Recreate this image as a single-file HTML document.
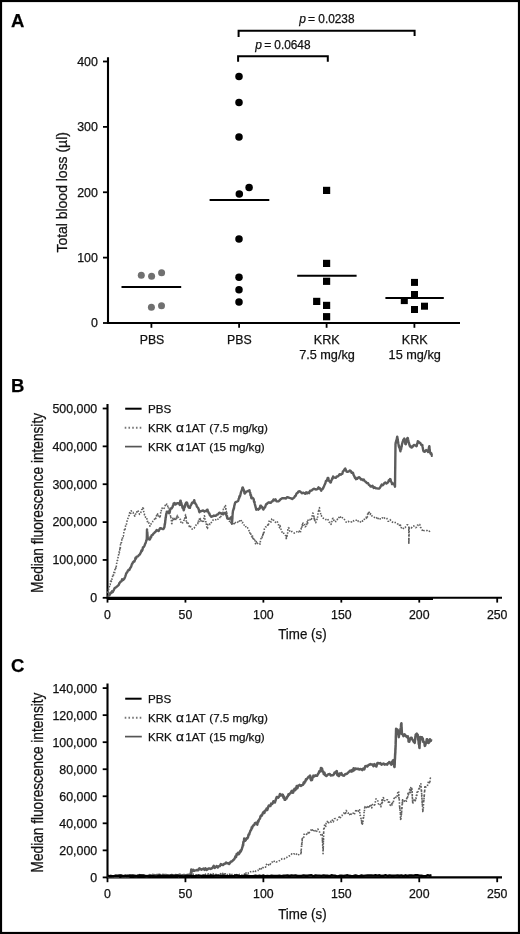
<!DOCTYPE html>
<html><head><meta charset="utf-8"><style>
html,body{margin:0;padding:0;background:#fff;}
svg{display:block;will-change:transform;}
text{font-family:"Liberation Sans",sans-serif;stroke:#111;stroke-width:0.25px;}
</style></head><body>
<svg width="520" height="934" viewBox="0 0 520 934">
<rect x="0" y="0" width="520" height="934" fill="#fff"/>
<rect x="1" y="1" width="518" height="932" fill="none" stroke="#000" stroke-width="2.2"/>

<text x="11" y="27" font-size="18.5" font-weight="bold" fill="#000">A</text>
<path d="M108 57.3 V324 M107 323 H460" stroke="#000" stroke-width="2.1" fill="none"/>
<path d="M103 323.00 H108" stroke="#000" stroke-width="1.8"/>
<text x="97.9" y="327.45" font-size="12.4" text-anchor="end" fill="#111">0</text>
<path d="M103 257.62 H108" stroke="#000" stroke-width="1.8"/>
<text x="97.9" y="262.07" font-size="12.4" text-anchor="end" fill="#111">100</text>
<path d="M103 192.25 H108" stroke="#000" stroke-width="1.8"/>
<text x="97.9" y="196.70" font-size="12.4" text-anchor="end" fill="#111">200</text>
<path d="M103 126.87 H108" stroke="#000" stroke-width="1.8"/>
<text x="97.9" y="131.32" font-size="12.4" text-anchor="end" fill="#111">300</text>
<path d="M103 61.50 H108" stroke="#000" stroke-width="1.8"/>
<text x="97.9" y="65.95" font-size="12.4" text-anchor="end" fill="#111">400</text>
<path d="M151.4 323 V327.8" stroke="#000" stroke-width="1.8"/>
<path d="M239.1 323 V327.8" stroke="#000" stroke-width="1.8"/>
<path d="M326.6 323 V327.8" stroke="#000" stroke-width="1.8"/>
<path d="M414.4 323 V327.8" stroke="#000" stroke-width="1.8"/>
<text x="152" y="343.6" font-size="12.3" text-anchor="middle" fill="#111">PBS</text>
<text x="239.4" y="343.6" font-size="12.3" text-anchor="middle" fill="#111">PBS</text>
<text x="326.8" y="343.6" font-size="12.6" text-anchor="middle" fill="#111">KRK</text>
<text x="327" y="359" font-size="12.7" text-anchor="middle" fill="#111">7.5 mg/kg</text>
<text x="414.7" y="343.6" font-size="12.6" text-anchor="middle" fill="#111">KRK</text>
<text x="414.7" y="359" font-size="12.7" text-anchor="middle" fill="#111">15 mg/kg</text>
<text transform="translate(66.9 252.6) rotate(-90)" x="0" y="0" font-size="15.5" textLength="120.5" lengthAdjust="spacingAndGlyphs" fill="#111">Total blood loss (µl)</text>
<circle cx="141.3" cy="275.2" r="3.5" fill="#707070"/>
<circle cx="151.6" cy="276.3" r="3.5" fill="#707070"/>
<circle cx="161.6" cy="272.7" r="3.5" fill="#707070"/>
<circle cx="151.4" cy="307.2" r="3.5" fill="#707070"/>
<circle cx="161.5" cy="305.7" r="3.5" fill="#707070"/>
<path d="M121.5 287 H181.2" stroke="#000" stroke-width="2"/>
<circle cx="239" cy="76.6" r="3.75" fill="#000"/>
<circle cx="239" cy="102.4" r="3.75" fill="#000"/>
<circle cx="239" cy="136.9" r="3.75" fill="#000"/>
<circle cx="239.3" cy="193.9" r="3.75" fill="#000"/>
<circle cx="249.1" cy="187.4" r="3.75" fill="#000"/>
<circle cx="239" cy="239.1" r="3.75" fill="#000"/>
<circle cx="239" cy="277.3" r="3.75" fill="#000"/>
<circle cx="239" cy="289.8" r="3.75" fill="#000"/>
<circle cx="239" cy="301.9" r="3.75" fill="#000"/>
<path d="M209.6 199.9 H269.3" stroke="#000" stroke-width="2"/>
<rect x="323.00" y="186.80" width="7.2" height="7.2" fill="#000"/>
<rect x="323.00" y="259.80" width="7.2" height="7.2" fill="#000"/>
<rect x="323.00" y="277.70" width="7.2" height="7.2" fill="#000"/>
<rect x="313.10" y="297.80" width="7.2" height="7.2" fill="#000"/>
<rect x="323.00" y="301.80" width="7.2" height="7.2" fill="#000"/>
<rect x="323.00" y="313.10" width="7.2" height="7.2" fill="#000"/>
<path d="M297.2 275.7 H356.6" stroke="#000" stroke-width="2"/>
<rect x="411.00" y="278.90" width="7.0" height="7.0" fill="#000"/>
<rect x="411.00" y="291.00" width="7.0" height="7.0" fill="#000"/>
<rect x="400.80" y="297.10" width="7.0" height="7.0" fill="#000"/>
<rect x="411.00" y="306.00" width="7.0" height="7.0" fill="#000"/>
<rect x="421.00" y="302.70" width="7.0" height="7.0" fill="#000"/>
<path d="M385.4 298.1 H443.8" stroke="#000" stroke-width="2"/>
<path d="M238.6 37 V30.8 H414.6 V36" stroke="#000" stroke-width="2" fill="none"/>
<path d="M238.1 61.8 V56.2 H327.8 V61.8" stroke="#000" stroke-width="2" fill="none"/>
<text x="299.3" y="22.8" font-size="12" font-style="italic" fill="#111">p</text><text x="307.9" y="22.8" font-size="12" fill="#111">=</text><text x="318.3" y="22.8" font-size="11.85" fill="#111">0.0238</text>
<text x="255.2" y="48.5" font-size="12" font-style="italic" fill="#111">p</text><text x="264.2" y="48.5" font-size="12" fill="#111">=</text><text x="274.3" y="48.5" font-size="11.85" fill="#111">0.0648</text>
<text x="11" y="392.2" font-size="18.5" font-weight="bold" fill="#000">B</text>
<path d="M107.5 404 V598.8 M106.5 597.8 H502" stroke="#000" stroke-width="2.1" fill="none"/>
<path d="M102.7 597.80 H107.5" stroke="#000" stroke-width="1.8"/>
<text x="97.2" y="602.20" font-size="12.4" text-anchor="end" fill="#111">0</text>
<path d="M102.7 559.94 H107.5" stroke="#000" stroke-width="1.8"/>
<text x="97.2" y="564.34" font-size="12.4" text-anchor="end" fill="#111">100,000</text>
<path d="M102.7 522.08 H107.5" stroke="#000" stroke-width="1.8"/>
<text x="97.2" y="526.48" font-size="12.4" text-anchor="end" fill="#111">200,000</text>
<path d="M102.7 484.22 H107.5" stroke="#000" stroke-width="1.8"/>
<text x="97.2" y="488.62" font-size="12.4" text-anchor="end" fill="#111">300,000</text>
<path d="M102.7 446.36 H107.5" stroke="#000" stroke-width="1.8"/>
<text x="97.2" y="450.76" font-size="12.4" text-anchor="end" fill="#111">400,000</text>
<path d="M102.7 408.50 H107.5" stroke="#000" stroke-width="1.8"/>
<text x="97.2" y="412.90" font-size="12.4" text-anchor="end" fill="#111">500,000</text>
<path d="M107.50 597.8 V602.5999999999999" stroke="#000" stroke-width="1.8"/>
<text x="107.50" y="618.5" font-size="12.3" text-anchor="middle" fill="#111">0</text>
<path d="M185.44 597.8 V602.5999999999999" stroke="#000" stroke-width="1.8"/>
<text x="185.44" y="618.5" font-size="12.3" text-anchor="middle" fill="#111">50</text>
<path d="M263.38 597.8 V602.5999999999999" stroke="#000" stroke-width="1.8"/>
<text x="263.38" y="618.5" font-size="12.3" text-anchor="middle" fill="#111">100</text>
<path d="M341.32 597.8 V602.5999999999999" stroke="#000" stroke-width="1.8"/>
<text x="341.32" y="618.5" font-size="12.3" text-anchor="middle" fill="#111">150</text>
<path d="M419.26 597.8 V602.5999999999999" stroke="#000" stroke-width="1.8"/>
<text x="419.26" y="618.5" font-size="12.3" text-anchor="middle" fill="#111">200</text>
<path d="M497.20 597.8 V602.5999999999999" stroke="#000" stroke-width="1.8"/>
<text x="497.20" y="618.5" font-size="12.3" text-anchor="middle" fill="#111">250</text>
<text x="278.2" y="639.3" font-size="14.5" textLength="48.4" lengthAdjust="spacingAndGlyphs" fill="#111">Time (s)</text>
<text transform="translate(42.6 592.8) rotate(-90)" font-size="16" textLength="179.8" lengthAdjust="spacingAndGlyphs" fill="#111">Median fluorescence intensity</text>
<path d="M125.2 408.7 H141.6" stroke="#000" stroke-width="2"/>
<path d="M124.7 427.80 H142" stroke="#777" stroke-width="1.9" stroke-dasharray="1.6 2.15"/>
<path d="M125 446.60 H141.8" stroke="#555" stroke-width="1.7"/>
<text x="148" y="413.40" font-size="11.6" fill="#111">PBS</text>
<text x="148" y="432.40" font-size="11.6" fill="#111">KRK</text>
<text x="175.9" y="432.40" font-size="12" textLength="7.9" lengthAdjust="spacingAndGlyphs" fill="#111">α</text>
<text x="185.2" y="432.40" font-size="11.6" fill="#111">1AT</text>
<text x="209.3" y="432.40" font-size="11.6" fill="#111">(7.5 mg/kg)</text>
<text x="148" y="451.10" font-size="11.6" fill="#111">KRK</text>
<text x="175.9" y="451.10" font-size="12" textLength="7.9" lengthAdjust="spacingAndGlyphs" fill="#111">α</text>
<text x="185.2" y="451.10" font-size="11.6" fill="#111">1AT</text>
<text x="209.3" y="451.10" font-size="11.6" fill="#111">(15 mg/kg)</text>
<polyline points="107.7,593.1 107.96,590.72 108.22,592.23 108.49,590.86 108.75,587.97 109.01,587.77 109.28,586.54 109.54,586.21 109.8,584.6 110.19,584.57 110.57,581 110.96,579.69 111.34,581.52 111.73,579 112.11,579.12 112.5,577.1 112.86,574.35 113.21,574.99 113.57,575.03 113.92,572.3 114.28,573.93 114.63,572.81 114.99,568.72 115.34,567.75 115.7,568.5 115.92,567.67 116.15,568.11 116.38,565.12 116.6,563.55 116.83,563.3 117.05,560.9 117.28,560.61 117.5,560.41 117.73,559.63 117.95,557.71 118.18,556.71 118.4,556.7 118.59,554.69 118.79,554.57 118.98,552.96 119.17,551.01 119.36,552.95 119.56,550.95 119.75,550.26 119.94,547.63 120.14,549.54 120.33,548.07 120.52,544.41 120.71,544.18 120.91,544.59 121.1,542.8 121.37,542.58 121.63,542.4 121.9,539.57 122.17,540.05 122.43,538.5 122.7,536.19 122.97,536.23 123.23,536.31 123.5,535.2 123.77,532.99 124.03,532.3 124.3,531 124.58,528.34 124.87,528.1 125.15,529.12 125.44,526.75 125.72,524.9 126.01,525.27 126.29,524.84 126.58,523.75 126.86,521.69 127.15,520.93 127.43,520.2 127.72,520.19 128,518.2 128.4,517.34 128.8,515.94 129.2,515.35 129.6,512.76 130,511.87 130.4,513.31 130.8,513.38 131.2,510.7 131.84,512 132.48,512.24 133.12,512.39 133.76,514.55 134.4,515.5 134.94,516.28 135.48,514.55 136.02,512.76 136.56,512.96 137.1,510.7 137.9,510.41 138.7,512.1 139.5,514.35 140.3,513.4 140.75,512.7 141.2,511.29 141.65,509.62 142.1,509.64 142.55,510.13 143,507.5 143.26,506.8 143.53,510.67 143.79,511.88 144.05,513.19 144.31,513.74 144.57,515.06 144.84,515.09 145.1,516.1 145.64,517.38 146.18,517.95 146.72,517.68 147.26,521.67 147.8,521.4 148.24,522.61 148.68,522.24 149.12,524.3 149.56,525.19 150,526.2 150.58,524.7 151.16,523.69 151.74,523.4 152.32,522.72 152.9,521.3 153.62,521 154.35,519.75 155.08,517.5 155.8,518.5 156.18,516.57 156.56,515.42 156.94,515.92 157.32,515.96 157.7,513.7 158.17,515.72 158.65,516.67 159.12,517.69 159.6,517.5 159.9,515.46 160.2,516.41 160.5,514.64 160.8,511.36 161.1,511.7 161.57,508.99 162.03,508.02 162.5,508.8 163.45,509.27 164.4,507.9 165,506.02 165.6,504.54 166.2,505.42 166.8,504 167.3,504.64 167.8,506.4 168.09,505.86 168.38,507.19 168.67,509.53 168.96,509.25 169.25,510.63 169.54,513.22 169.83,513.31 170.12,513.84 170.41,515.4 170.7,516.5 170.85,515.92 171,518.36 171.15,519.62 171.3,519.91 171.45,520.76 171.6,523.3 171.9,523.58 172.2,521.02 172.5,518.77 172.8,519.04 173.1,517.5 173.9,519.61 174.7,517.71 175.5,520.4 175.98,517.7 176.46,517.21 176.94,518.31 177.42,515.34 177.9,515.6 178.38,517.29 178.85,518.14 179.33,518.61 179.8,519.4 180.43,519.36 181.07,523.05 181.7,522.3 182.7,522.87 183.7,521.3 184.02,520.24 184.33,518.07 184.65,518.48 184.97,516.45 185.28,515.99 185.6,514.6 185.75,515.07 185.9,517.3 186.05,516.36 186.2,518.34 186.35,521.87 186.5,521.3 187.17,523.62 187.83,522.54 188.5,524.2 189.3,526.46 190.1,525.45 190.9,527.1 192.1,529.18 193.3,528.1 194.15,528.18 195,526.5 195.9,525.3 196.8,523.81 197.7,523.8 198.24,520.97 198.78,523.04 199.32,518.96 199.86,520.71 200.4,518.5 201.07,521.16 201.75,520.75 202.43,520.32 203.1,522.5 203.32,522.71 203.53,521.97 203.75,519.88 203.97,518.07 204.18,516.48 204.4,515.8 204.62,516.26 204.85,516.76 205.07,519.45 205.3,519.59 205.53,519.74 205.75,520.43 205.97,523.46 206.2,523.13 206.43,524.87 206.65,525.25 206.88,528.23 207.1,527.9 207.5,528.4 207.9,524.29 208.3,524 208.7,523.52 209.1,523.2 210,524.49 210.9,523.28 211.8,521.8 212.7,520.55 213.6,519.43 214.5,519.8 215.85,519.78 217.2,518.5 218.1,519.25 219,519.12 219.9,517.1 220.4,515.54 220.9,516.48 221.4,514.77 221.9,513.1 222.4,512.02 222.9,512.8 223.4,509.07 223.9,509 224.37,508.71 224.83,505.3 225.3,505.7 225.5,505.52 225.7,509.2 225.9,507.7 226.1,510.67 226.3,511.11 226.5,512.99 226.7,512.3 226.9,513.21 227.1,514.04 227.3,515.8 227.84,518.18 228.38,518.29 228.92,520.62 229.46,521.43 230,521.1 230.5,520.81 231,523.33 231.5,522.75 232,525.2 232.85,522.87 233.7,522.31 234.55,524.49 235.4,522.5 236.75,523.19 238.1,521.8 239,522.32 239.9,519.89 240.8,519.8 241.48,521.21 242.15,522.81 242.82,522.36 243.5,523.8 244.15,525.08 244.8,524.86 245.45,525.37 246.1,527.9 247.45,527.71 248.8,529.2 249.19,531.58 249.57,531.37 249.96,533.64 250.34,532.93 250.73,533.26 251.11,536.06 251.5,536 252.04,538.12 252.58,536.12 253.12,539.43 253.66,538.29 254.2,540.7 254.88,540.14 255.55,543.74 256.22,541.52 256.9,544 258.25,542.76 259.6,543.4 260,544.2 260.4,541.2 260.8,539.14 261.2,538.36 261.6,538.6 261.97,536.74 262.33,537.61 262.7,535.8 262.99,533.31 263.27,535.16 263.56,532.19 263.84,533.26 264.13,531.99 264.41,528.72 264.7,528.4 265.6,526.81 266.5,526.92 267.4,526.3 267.94,523.8 268.48,524.73 269.02,521.46 269.56,520.3 270.1,521 271,522.04 271.9,518.86 272.8,518.9 273.48,520.1 274.15,520.42 274.82,520.78 275.5,522.3 276.85,521.08 278.2,523 278.65,525.49 279.1,526.69 279.55,527.69 280,525.6 280.45,526.97 280.9,529 281.57,530.45 282.25,532.78 282.93,532.23 283.6,533.1 284.47,534.68 285.33,535.48 286.2,535.8 286.2,535.93 286.2,537.95 286.2,538.11 286.2,539.8 286.38,537.88 286.55,536.28 286.73,535.99 286.9,537.51 287.07,534.57 287.25,534.3 287.43,533.26 287.6,533.32 287.77,530.33 287.95,529.02 288.12,528.09 288.3,527.7 288.98,528.04 289.65,530.95 290.32,532.12 291,531.7 292.1,531.46 293.2,532.04 294.3,533.1 295.43,532.56 296.57,531.98 297.7,531 298.6,531.81 299.5,531.02 300.4,532.4 300.7,529.63 301,529.39 301.3,527.73 301.6,528.41 301.9,525.63 302.2,524.6 302.5,525.58 302.8,523.29 303.1,523 303.78,524.88 304.45,524.63 305.12,526.78 305.8,526.3 306.19,524.1 306.57,524.39 306.96,524.49 307.34,520.95 307.73,523.13 308.11,519.38 308.5,519.6 309.8,519.94 311.1,518.3 311.52,519.09 311.94,517.54 312.36,514.77 312.78,513.04 313.2,513.5 313.42,514.53 313.64,516.97 313.87,515.69 314.09,518.83 314.31,517.1 314.53,520.84 314.76,518.66 314.98,520.66 315.2,522.3 315.7,522.75 316.2,521.39 316.7,520.77 317.2,518.3 317.4,518.52 317.6,517.17 317.8,515.95 318,513.1 318.2,513.01 318.4,511.01 318.6,512 318.8,510.82 319,508.32 319.2,508.2 319.49,507.69 319.77,511.98 320.06,512.48 320.34,512.61 320.63,513.63 320.91,515.81 321.2,515.6 321.9,516.33 322.6,517.02 323.3,518.3 324.6,518.37 325.9,519.6 326.8,519.2 327.7,518.82 328.6,521 329.23,522.35 329.85,522.35 330.48,523.73 331.1,524.3 331.43,521.72 331.77,521.78 332.1,520 332.43,518.95 332.77,518.43 333.1,518.3 333.78,520.31 334.45,519.58 335.12,520.42 335.8,521.6 336.7,521.1 337.6,518.84 338.5,518.9 339.4,516.23 340.3,517.2 341.2,516.2 342.02,517.05 342.85,518.44 343.68,518.53 344.5,519.6 345.4,521.17 346.3,522.23 347.2,522.3 348.33,521.36 349.47,522.28 350.6,522.3 351.7,521.79 352.8,520.44 353.9,521 355.03,520.22 356.17,520.28 357.3,519.6 358.43,521.73 359.57,522.44 360.7,521.6 361.8,520.36 362.9,521.26 364,520.3 364.9,518.01 365.8,517.42 366.7,518.3 366.99,517.37 367.27,517.72 367.56,514.16 367.84,515.37 368.13,514.82 368.41,511.79 368.7,511.5 369.38,513.04 370.05,514.46 370.72,513.59 371.4,514.9 372.25,516.3 373.1,517.1 373.95,517.27 374.8,517.6 376.15,518.53 377.5,516.9 378.4,518.96 379.3,519.82 380.2,518.8 381.3,519.12 382.4,517.77 383.5,519 384.63,517.94 385.77,517.65 386.9,518.5 387.5,519.68 388.1,521.29 388.7,521.3 390.1,519.69 391.5,521.3 392.67,522.35 393.83,522.88 395,522.5 396.17,522.52 397.33,523.69 398.5,524.2 399.2,523.87 399.9,526.78 400.6,525.17 401.3,527.7 402.75,529.13 404.2,527.1 405.17,527.44 406.13,526.03 407.1,524.8 407.95,525.06 408.8,527 408.8,529.54 408.8,530.75 408.8,528.85 408.8,532.19 408.8,533.48 408.8,533.87 408.8,535.07 408.8,535.2 408.8,537.98 408.8,539.2 408.8,538.13 408.8,540.69 408.8,540.41 408.8,540.49 408.8,542.12 408.8,543.8 408.84,541.45 408.88,543.26 408.91,542.44 408.95,538.4 408.99,539.13 409.02,537.43 409.06,535.38 409.1,535.01 409.14,533.84 409.18,534.64 409.21,530.95 409.25,530.61 409.29,530.5 409.32,527.99 409.36,529.17 409.4,527.7 410.37,527.68 411.33,528.11 412.3,526.5 413.47,525.84 414.63,526.53 415.8,527.7 416.65,526.98 417.5,525.13 418.35,525.38 419.2,524.2 419.77,524.47 420.33,527.19 420.9,527.7 421.62,529.47 422.35,530.26 423.07,531.58 423.8,530.6 424.97,530.76 426.13,530.57 427.3,530.6 428.43,531.68 429.57,531.17 430.7,530" fill="none" stroke="#606060" stroke-width="1.6" stroke-dasharray="1.5 1.5" stroke-linejoin="round"/>
<polyline points="107.7,595.3 108.62,595.75 109.55,595.19 110.48,592.67 111.4,593.1 112.03,591.3 112.67,592.07 113.3,590.97 113.93,589.94 114.57,588.26 115.2,587.8 116.12,587.23 117.05,586.43 117.98,585.58 118.9,584.6 119.43,582.95 119.97,582.65 120.5,581.67 121.03,581.49 121.57,581.19 122.1,579.2 123.2,579.94 124.3,578.7 124.76,577.8 125.22,576.58 125.69,575.19 126.15,573.68 126.61,572.66 127.08,572.62 127.54,571.3 128,570.7 128.68,569.64 129.35,569.96 130.02,568.36 130.7,567.5 131.15,566.73 131.6,565.12 132.05,563.75 132.5,563.52 132.95,562.2 133.4,562.1 133.93,561.22 134.47,561.4 135,559.78 135.53,557.8 136.07,558.47 136.6,556.7 137.5,556.65 138.4,555.82 139.3,554.6 139.83,554.56 140.35,553.3 140.88,552.42 141.4,550.53 141.93,550.97 142.45,549.99 142.97,547.29 143.5,547.1 144.05,546.58 144.6,545.42 145.15,543.79 145.7,542.8 145.97,541.79 146.25,540.63 146.53,540.51 146.8,538.5 146.82,537.49 146.84,537.21 146.87,535.15 146.89,535.3 146.91,534.32 146.93,532.35 146.96,531.57 146.98,531.34 147,529.4 147.09,530.9 147.18,531.39 147.27,531.82 147.36,533.06 147.44,534.89 147.53,534.73 147.62,537.38 147.71,536.98 147.8,538.5 149.4,539.6 149.95,539.43 150.5,537.03 151.05,537.38 151.6,535.3 152.5,534.95 153.4,533.71 154.3,532.9 155.1,531.97 155.9,531.3 156.7,530 157.7,530.69 158.7,531 159.33,529.62 159.97,528.42 160.6,528.1 161.55,528.58 162.5,529 163.45,529.01 164.4,527.1 164.55,526.31 164.7,524.05 164.85,524.62 165,523.36 165.15,522.7 165.3,520.06 165.45,520.22 165.6,517.65 165.75,517.9 165.9,516.5 166.12,514.8 166.35,513.5 166.58,513.73 166.8,511.7 168,511.58 169.2,513.2 169.5,512.29 169.8,512.06 170.1,509.76 170.4,508.72 170.7,508.4 171.65,508.49 172.6,506.9 172.93,505.63 173.27,505.18 173.6,503.6 174.55,503.02 175.5,504.5 176.7,503.5 177.9,503.1 178.85,503.33 179.8,505 179.93,504.31 180.05,501.93 180.18,502.78 180.3,500.7 180.65,500.73 181,503.35 181.35,502.87 181.7,505 182.1,505.52 182.5,507.81 182.9,507.43 183.3,508.54 183.7,510.3 183.98,509.66 184.26,507.93 184.54,506.11 184.82,507.14 185.1,505 185.73,503.43 186.37,502.38 187,502.6 187.33,503.52 187.67,505.39 188,506.4 188.95,507.68 189.9,507.9 190.37,505.92 190.83,505.28 191.3,504.5 192.05,502.77 192.8,503.1 193.27,502.02 193.73,501.75 194.2,500.2 194.7,501.8 195.2,503.23 195.7,503.99 196.2,504.5 196.83,506.43 197.47,507.22 198.1,507.9 198.45,508.92 198.8,509.45 199.15,511.48 199.5,512.2 200.6,511.2 201.7,511 203.05,510.47 204.4,511.7 205.3,510.92 206.2,511.19 207.1,509.7 207.55,509.78 208,511.69 208.45,512.16 208.9,513.33 209.35,513.42 209.8,515.1 211.15,516.76 212.5,516.4 213.85,515.57 215.2,515.8 216.1,515.57 217,514.69 217.9,514.4 219.25,512.69 220.6,513.1 221.95,513.88 223.3,514.4 224.3,512.96 225.3,513.1 225.7,513.2 226.1,514.23 226.5,515.59 226.9,516.53 227.3,518.5 228.65,518.8 230,518.5 231.3,517.1 231.42,518.13 231.53,520.2 231.65,521.11 231.77,522.25 231.88,521.59 232,523.2 232.07,522.07 232.14,520.63 232.21,520.37 232.28,519.43 232.35,518.81 232.42,517.6 232.49,515.59 232.56,514.95 232.63,514.17 232.7,513.1 232.95,511.03 233.19,510.11 233.44,509.95 233.68,508.32 233.93,508.68 234.17,506.64 234.42,505.35 234.66,504.55 234.91,503.67 235.15,502.66 235.4,502.3 236.75,501.7 238.1,501 238.44,499.91 238.78,498.56 239.11,498.27 239.45,496.32 239.79,496.83 240.12,495.94 240.46,494.42 240.8,492.9 241.2,491.67 241.6,490.77 242,489.84 242.4,487.59 242.8,487.5 243.13,488.34 243.47,489.59 243.8,489.85 244.13,490.67 244.47,493.25 244.8,493.6 245.8,492.26 246.8,491.5 248.15,490.89 249.5,490.2 249.75,492.14 250,492.47 250.25,492.77 250.5,495.31 250.75,494.98 251,495.22 251.25,497.7 251.5,498.3 252.5,497.72 253.5,498.9 253.75,499.45 253.99,501.61 254.24,502.23 254.48,501.76 254.73,503.7 254.97,504.59 255.22,505.74 255.46,506.11 255.71,507.93 255.95,507.78 256.2,509.7 257.25,509.23 258.3,509.7 258.98,508.42 259.65,508.66 260.32,505.77 261,505.7 261.6,507.21 262.2,506.92 262.8,508.71 263.4,509.5 263.95,508.36 264.5,507.62 265.05,507.36 265.6,505.67 266.15,504.17 266.7,504.1 267.83,502.83 268.97,502.31 270.1,502.8 270.95,502.72 271.8,501.41 272.65,501.26 273.5,499.4 274.5,500.32 275.5,499.35 276.5,501.25 277.5,501.4 278.5,501.33 279.5,500.54 280.5,499.37 281.5,498.7 282.63,498.19 283.77,498.21 284.9,498.1 286.03,498.52 287.17,497.13 288.3,497.4 289.4,497.89 290.5,498.22 291.6,498.7 292.45,499.03 293.3,498.02 294.15,497.63 295,496 295.67,495.96 296.33,493.99 297,493.06 297.67,492.84 298.33,491.55 299,491.3 300.02,491.49 301.05,492.39 302.08,493.27 303.1,492.7 304.1,493.06 305.1,493.75 306.1,492.34 307.1,493.4 308.1,492.41 309.1,493.15 310.1,490.6 311.1,490.7 312.12,490.17 313.15,489.05 314.18,488.74 315.2,489.3 316.3,489.5 317.4,489.04 318.5,487.3 319.18,488.48 319.85,488.18 320.52,489.4 321.2,490.7 321.88,489.08 322.55,489.03 323.22,488.02 323.9,486.6 324.45,485.12 325,483.9 325.45,482.95 325.9,481.05 326.35,480.99 326.8,480.89 327.25,479.46 327.7,477.9 328.24,477.95 328.78,479.82 329.32,481.19 329.86,481.13 330.4,482.6 330.85,482.45 331.3,480.48 331.75,480 332.2,478.32 332.65,478.61 333.1,476.5 334,477.59 334.9,477.59 335.8,477.9 336.7,476.45 337.6,476.44 338.5,475.9 339.6,474.16 340.7,474.71 341.8,473.8 342.37,473.76 342.93,471.33 343.5,471.17 344.07,470.23 344.63,469.17 345.2,468.5 345.87,470.06 346.53,471.66 347.2,471.8 348.55,471.6 349.9,470.5 350.8,471.11 351.7,472.85 352.6,472.5 353.09,473.08 353.57,474.95 354.06,475.72 354.54,476.9 355.03,478.06 355.51,477.64 356,479.2 357.1,478.8 358.2,477.65 359.3,477.2 360.2,478.23 361.1,479.58 362,479.2 362.9,480.16 363.8,479.46 364.7,481.2 365.83,481.82 366.97,483.07 368.1,483.3 368.93,484.97 369.75,485.28 370.57,486.47 371.4,486.6 372.53,485.77 373.67,488.04 374.8,487.3 375.93,488.24 377.07,488.4 378.2,488.6 379.1,488.63 380,487.71 380.9,486 381.72,484.45 382.55,485.34 383.38,484.56 384.2,483.3 385.33,482.47 386.47,483.5 387.6,482.8 388.23,482.04 388.85,480.22 389.48,480.62 390.1,479 390.5,479.22 390.9,481.29 391.3,481.92 391.7,482.54 392.1,484.1 394,483.5 394.33,484.71 394.67,485.56 395,486.7 395.01,485.04 395.02,485.71 395.04,482.73 395.05,481.57 395.06,481.62 395.07,481.38 395.08,479.98 395.1,479.18 395.11,477.58 395.12,476.99 395.13,475.23 395.14,474.07 395.15,473.58 395.17,471.53 395.18,470.63 395.19,471.11 395.2,468.82 395.21,469.08 395.23,468.14 395.24,466.3 395.25,465.88 395.26,465.12 395.27,464.28 395.29,461.67 395.3,460.72 395.31,460.19 395.32,459.37 395.33,457.98 395.35,456.35 395.36,456.54 395.37,456.43 395.38,454.1 395.39,453.47 395.4,452.12 395.42,451.24 395.43,451.17 395.44,448.93 395.45,448.67 395.46,447.29 395.48,446.4 395.49,446.22 395.5,444.3 395.74,442.27 395.99,442.81 396.23,440.57 396.47,440.22 396.71,439.45 396.96,438.04 397.2,436.6 397.39,437.46 397.57,439.55 397.76,439 397.94,441.29 398.13,441.86 398.31,443.27 398.5,444.3 398.77,446.07 399.04,446.96 399.31,447.58 399.59,447.88 399.86,448.71 400.13,450.21 400.4,451.3 400.65,449.67 400.9,448.74 401.15,449.19 401.4,446.3 401.65,446.81 401.9,444.81 402.15,443.74 402.4,443 402.88,441.48 403.35,439.82 403.82,439.53 404.3,438.5 404.56,438.93 404.82,440.69 405.08,441.52 405.34,444.01 405.6,444.3 405.92,444.16 406.23,442.04 406.55,441.41 406.87,440.98 407.18,438.58 407.5,437.9 407.77,438.02 408.04,439.32 408.31,440.22 408.59,442.29 408.86,442.62 409.13,443.58 409.4,444.9 410.03,446.42 410.67,446.05 411.3,447.5 412.17,447.31 413.03,446.06 413.9,444.9 415.2,445.33 416.5,446.2 416.76,445.89 417.02,443.81 417.28,443.97 417.54,443.06 417.8,441.1 418.63,441.74 419.47,442.78 420.3,443 421.3,444.94 422.3,444.9 422.52,446.5 422.73,447.59 422.95,448.91 423.17,450.12 423.38,450.79 423.6,451.3 424.85,451.75 426.1,450.1 427.1,450.59 428.1,452 428.34,451.11 428.58,450.06 428.82,448.23 429.06,447.13 429.3,446.2 429.44,446.64 429.58,449.53 429.72,449.36 429.86,450.79 430,452 430.65,453.82 431.3,453.21 431.95,455.86 432.6,455.8" fill="none" stroke="#5c5c5c" stroke-width="2.4" stroke-linejoin="round"/>
<path d="M107.5 598.5999999999999 H433" stroke="#000" stroke-width="2.6"/>
<text x="11" y="672.2" font-size="18.5" font-weight="bold" fill="#000">C</text>
<path d="M107.5 683.6 V878.4 M106.5 877.4 H502" stroke="#000" stroke-width="2.1" fill="none"/>
<path d="M102.7 877.40 H107.5" stroke="#000" stroke-width="1.8"/>
<text x="97.2" y="881.80" font-size="12.4" text-anchor="end" fill="#111">0</text>
<path d="M102.7 850.36 H107.5" stroke="#000" stroke-width="1.8"/>
<text x="97.2" y="854.76" font-size="12.4" text-anchor="end" fill="#111">20,000</text>
<path d="M102.7 823.31 H107.5" stroke="#000" stroke-width="1.8"/>
<text x="97.2" y="827.71" font-size="12.4" text-anchor="end" fill="#111">40,000</text>
<path d="M102.7 796.27 H107.5" stroke="#000" stroke-width="1.8"/>
<text x="97.2" y="800.67" font-size="12.4" text-anchor="end" fill="#111">60,000</text>
<path d="M102.7 769.23 H107.5" stroke="#000" stroke-width="1.8"/>
<text x="97.2" y="773.63" font-size="12.4" text-anchor="end" fill="#111">80,000</text>
<path d="M102.7 742.19 H107.5" stroke="#000" stroke-width="1.8"/>
<text x="97.2" y="746.59" font-size="12.4" text-anchor="end" fill="#111">100,000</text>
<path d="M102.7 715.14 H107.5" stroke="#000" stroke-width="1.8"/>
<text x="97.2" y="719.54" font-size="12.4" text-anchor="end" fill="#111">120,000</text>
<path d="M102.7 688.10 H107.5" stroke="#000" stroke-width="1.8"/>
<text x="97.2" y="692.50" font-size="12.4" text-anchor="end" fill="#111">140,000</text>
<path d="M107.50 877.4 V882.1999999999999" stroke="#000" stroke-width="1.8"/>
<text x="107.50" y="898.1" font-size="12.3" text-anchor="middle" fill="#111">0</text>
<path d="M185.44 877.4 V882.1999999999999" stroke="#000" stroke-width="1.8"/>
<text x="185.44" y="898.1" font-size="12.3" text-anchor="middle" fill="#111">50</text>
<path d="M263.38 877.4 V882.1999999999999" stroke="#000" stroke-width="1.8"/>
<text x="263.38" y="898.1" font-size="12.3" text-anchor="middle" fill="#111">100</text>
<path d="M341.32 877.4 V882.1999999999999" stroke="#000" stroke-width="1.8"/>
<text x="341.32" y="898.1" font-size="12.3" text-anchor="middle" fill="#111">150</text>
<path d="M419.26 877.4 V882.1999999999999" stroke="#000" stroke-width="1.8"/>
<text x="419.26" y="898.1" font-size="12.3" text-anchor="middle" fill="#111">200</text>
<path d="M497.20 877.4 V882.1999999999999" stroke="#000" stroke-width="1.8"/>
<text x="497.20" y="898.1" font-size="12.3" text-anchor="middle" fill="#111">250</text>
<text x="278.2" y="918.9" font-size="14.5" textLength="48.4" lengthAdjust="spacingAndGlyphs" fill="#111">Time (s)</text>
<text transform="translate(42.6 872.4) rotate(-90)" font-size="16" textLength="179.8" lengthAdjust="spacingAndGlyphs" fill="#111">Median fluorescence intensity</text>
<path d="M125.2 698.7 H141.6" stroke="#000" stroke-width="2"/>
<path d="M124.7 717.80 H142" stroke="#777" stroke-width="1.9" stroke-dasharray="1.6 2.15"/>
<path d="M125 736.60 H141.8" stroke="#555" stroke-width="1.7"/>
<text x="148" y="703.40" font-size="11.6" fill="#111">PBS</text>
<text x="148" y="722.40" font-size="11.6" fill="#111">KRK</text>
<text x="175.9" y="722.40" font-size="12" textLength="7.9" lengthAdjust="spacingAndGlyphs" fill="#111">α</text>
<text x="185.2" y="722.40" font-size="11.6" fill="#111">1AT</text>
<text x="209.3" y="722.40" font-size="11.6" fill="#111">(7.5 mg/kg)</text>
<text x="148" y="741.10" font-size="11.6" fill="#111">KRK</text>
<text x="175.9" y="741.10" font-size="12" textLength="7.9" lengthAdjust="spacingAndGlyphs" fill="#111">α</text>
<text x="185.2" y="741.10" font-size="11.6" fill="#111">1AT</text>
<text x="209.3" y="741.10" font-size="11.6" fill="#111">(15 mg/kg)</text>
<polyline points="107.7,876.2 108.7,876.7 109.7,876 110.7,875.19 111.7,875.7 112.7,875.49 113.7,876.5 114.7,875.55 115.7,875.5 116.7,875.53 117.7,876.1 118.7,876.6 119.7,876.5 120.7,874.8 121.7,875.5 122.7,876.19 123.7,876 124.7,877.23 125.7,876.1 126.7,876.26 127.7,875.3 128.7,874.95 129.7,875.7 130.7,875.74 131.7,876.1 132.7,874.97 133.7,875.8 134.7,875.66 135.7,876 136.7,874.63 137.7,875.3 138.7,874.94 139.7,875.4 140.7,875.35 141.7,875.2 142.7,874.92 143.7,875.7 144.7,875.83 145.7,876.1 146.7,875.35 147.7,875.7 148.7,876.36 149.7,875.9 150.7,874.8 151.7,875.4 152.7,874.31 153.7,875.8 154.7,875.01 155.7,875 156.7,875.32 157.7,875.2 158.7,874.76 159.7,875.6 160.7,875.12 161.7,875.7 162.7,874.45 163.7,875.3 164.7,875.5 165.7,874.8 166.7,875.64 167.7,875 168.7,874.83 169.7,874.9 170.7,874.96 171.7,875 172.7,875.64 173.7,875.6 174.7,874.29 175.7,874.8 176.7,875.82 177.7,875.6 178.7,876.63 179.7,875.6 180.7,874.88 181.7,874.6 182.7,875.8 183.7,874.9 184.7,875.56 185.7,875 186.7,875.61 187.7,874.4 188.7,873.49 189.7,874.9 190.7,876.36 191.7,875.4 192.7,873.96 193.7,874.4 194.7,874.44 195.7,875 196.7,875.05 197.7,874.4 198.7,875.02 199.7,874.9 200.7,876.32 201.7,875.3 202.7,875.64 203.7,874.4 204.7,875.19 205.7,874.1 206.7,874.41 207.7,874.2 208.7,873.88 209.7,874.7 210.7,874.12 211.7,874.1 212.7,873.66 213.7,874.1 214.7,873.82 215.7,874.6 216.7,873.76 217.7,875.1 218.7,874.74 219.7,874.4 220.7,873.51 221.7,874.4 222.7,873.35 223.7,874.6 224.7,873.85 225.7,873.9 226.7,875.08 227.7,874.5 228.7,874.85 229.7,874 230.7,875.31 231.7,874.5 232.7,874.19 233.7,874.9 234.7,874.78 235.7,873.7 236.7,874.81 237.7,874.3 238.7,875.01 239.7,874.3 240.97,874.72 242.23,875.03 243.5,873.8 244.52,874.08 245.54,872.29 246.57,873.97 247.59,873.6 248.61,872.96 249.63,873.05 250.66,871.72 251.68,871.02 252.7,871.5 253.74,871.4 254.79,870.44 255.83,871.45 256.87,871.16 257.91,870.61 258.96,868.28 260,869.2 260.92,867.93 261.84,869.37 262.76,868 263.68,866.73 264.6,866.9 265.52,867.15 266.44,864.38 267.36,865.68 268.28,865.27 269.2,863.8 270.12,864.51 271.04,862.53 271.96,862.42 272.88,860.73 273.8,861.5 274.98,861.01 276.15,862.04 277.32,861.66 278.5,861.5 279.42,860.72 280.34,859.65 281.26,859.35 282.18,858.57 283.1,858.5 284.25,858.86 285.4,857.54 286.55,857.54 287.7,856.9 288.73,856.04 289.77,855.87 290.8,855.4 291.8,853.78 292.8,854.28 293.8,853.8 294.83,854 295.87,853.27 296.9,854.6 298.2,855.4 299.5,853.54 300.8,853.8 300.92,851.61 301.03,850.49 301.15,852.84 301.27,851.3 301.38,846.2 301.5,847.7 301.59,846.64 301.68,843.71 301.77,845.77 301.86,844.72 301.94,843.22 302.03,843.77 302.12,838.37 302.21,840.77 302.3,838.5 302.76,838 303.22,837.25 303.68,837.97 304.14,834.23 304.6,833.5 305.63,833.54 306.67,834.31 307.7,832.5 308.73,834.18 309.77,831.41 310.8,830.5 311.8,828.65 312.8,831.61 313.8,829.5 314.83,830.43 315.87,832.28 316.9,831 317.93,828.97 318.97,831.29 320,832.5 321.1,835.42 322.2,834.5 322.25,835.58 322.3,836.35 322.35,838.08 322.4,840.95 322.45,838.57 322.5,841.44 322.55,841.26 322.6,842.1 322.65,844.2 322.7,846.05 322.75,844.26 322.8,847.4 322.85,848.17 322.9,849.28 322.95,849.33 323,851.87 323.05,853.67 323.1,852.5 323.13,849.44 323.16,849.79 323.19,848.72 323.22,847.35 323.25,849.44 323.28,848.83 323.31,846.89 323.34,842 323.37,843.76 323.4,841.66 323.43,840.16 323.47,838.46 323.5,839.81 323.53,840.46 323.56,839.23 323.59,838.34 323.62,835.05 323.65,832.51 323.68,833.44 323.71,830.38 323.74,828.97 323.77,828.27 323.8,829.2 324.2,829.05 324.6,824.87 325,824.2 325.4,825.8 325.8,826.29 326.2,823.1 327.2,821.43 328.2,823.57 329.2,821.5 330.23,821.32 331.27,822.24 332.3,820 333.33,821.82 334.37,818.85 335.4,818.5 336.35,819.58 337.3,819.86 338.25,818.06 339.2,816.9 340.15,818.31 341.1,816 341.96,815.74 342.81,814.11 343.67,813.46 344.53,811.85 345.39,814.58 346.24,810.42 347.1,812 348.12,813.22 349.15,812.55 350.18,815.58 351.2,814 352.2,812.57 353.2,813.09 354.2,814.71 355.2,812 356.2,809.36 357.2,811.7 358.2,811.86 359.2,810 359.42,810.73 359.64,809.74 359.86,813.53 360.09,815.47 360.31,815.43 360.53,815.8 360.75,816.43 360.97,818.37 361.19,820.49 361.41,820.25 361.64,823.23 361.86,820.63 362.08,823.18 362.3,824.1 362.47,822.07 362.63,823.62 362.8,822.11 362.97,822.18 363.13,818.57 363.3,817.25 363.47,818.56 363.63,816.56 363.8,816.89 363.97,814.67 364.13,810.85 364.3,811.34 364.47,810.27 364.63,807.72 364.8,808.75 364.97,808.84 365.13,806.36 365.3,805.9 366.3,806.92 367.3,808.43 368.3,805.42 369.3,807.9 370.12,804.73 370.94,804.6 371.76,807.88 372.58,804.53 373.4,803.9 374.2,805.06 375,804.53 375.8,799.11 376.6,798.96 377.4,799.8 377.92,801.34 378.43,803.93 378.95,803.79 379.47,803.28 379.98,803.49 380.5,805.9 380.88,806.77 381.25,804.24 381.62,803.96 382,799.89 382.38,802.65 382.75,801.07 383.12,797.59 383.5,797.8 384.5,800.59 385.5,801.07 386.5,800.09 387.5,799.8 388.32,802.17 389.14,800.73 389.96,804.83 390.78,805.47 391.6,803.9 392.17,805.02 392.74,801.67 393.31,802.35 393.89,798.95 394.46,797.85 395.03,798.5 395.6,797.8 396.1,796.6 396.6,795.5 397.1,796.05 397.6,793.29 398.1,791.16 398.6,791.8 398.68,792.87 398.75,795.65 398.83,793.85 398.9,798.09 398.98,797.31 399.05,798.9 399.12,798.1 399.2,798.62 399.28,798.36 399.35,800.63 399.43,801.03 399.5,805.89 399.57,805.91 399.65,807.85 399.73,805.91 399.8,809.76 399.88,808.01 399.95,808.49 400.02,808.38 400.1,811.64 400.18,813.07 400.25,812.67 400.32,814.26 400.4,813.61 400.47,818.02 400.55,819.54 400.62,818.71 400.7,820 400.8,820.1 400.9,820 401,818.02 401.1,818.05 401.2,815.45 401.3,811.89 401.4,815.5 401.5,811.91 401.6,813.42 401.7,810.81 401.8,806.9 401.9,809.66 402,808.98 402.1,803.49 402.2,804.19 402.3,801.59 402.4,804.83 402.5,799.62 402.6,802.17 402.7,799.8 403.7,801.73 404.7,800.89 405.7,801.9 406.07,800.74 406.45,801.1 406.82,796.87 407.2,798.61 407.57,798.84 407.95,793.28 408.32,795.04 408.7,793.8 409.22,794.27 409.73,789.36 410.25,792.63 410.77,787.56 411.28,790.24 411.8,787.7 411.86,790.3 411.93,789.18 411.99,791.34 412.05,793.78 412.11,790.44 412.18,792.87 412.24,796.78 412.3,793.84 412.36,798.32 412.43,800.06 412.49,801.06 412.55,798.59 412.61,800.78 412.68,802.59 412.74,802.75 412.8,803.9 413.3,801.76 413.8,800.81 414.3,799.69 414.8,799.57 415.3,800.79 415.8,797.8 416.13,798.34 416.47,794.98 416.8,796.41 417.13,791.32 417.47,790.65 417.8,791.8 418.19,791.3 418.57,789.51 418.96,788.48 419.35,789.75 419.74,785.85 420.12,787.97 420.51,786.36 420.9,783.7 420.97,786.73 421.04,787.95 421.11,788.09 421.19,786.87 421.26,788.48 421.33,792.05 421.4,790.23 421.47,789.3 421.54,791.17 421.61,792.15 421.69,796.18 421.76,794.05 421.83,794.76 421.9,798.72 421.97,797.61 422.04,799.46 422.11,802.73 422.19,800.91 422.26,804.58 422.33,804.48 422.4,804.81 422.47,804.33 422.54,806.61 422.61,807.12 422.69,809.53 422.76,811.59 422.83,809.51 422.9,812 422.98,810.86 423.07,809.25 423.15,808.91 423.23,808.51 423.32,808.8 423.4,805.88 423.48,804.9 423.57,802.28 423.65,801.67 423.73,800.64 423.82,801.6 423.9,799.19 423.98,799.67 424.07,797.45 424.15,794.44 424.23,797.14 424.32,796.04 424.4,792.92 424.48,791.79 424.57,793.12 424.65,789.7 424.73,792.04 424.82,786.72 424.9,787.7 425.5,786.76 426.1,787.1 426.7,786.93 427.3,786.56 427.9,783.7 428.52,781.15 429.14,782.13 429.76,783.52 430.38,777.97 431,779.6" fill="none" stroke="#606060" stroke-width="1.6" stroke-dasharray="1.5 1.5" stroke-linejoin="round"/>
<polyline points="107.7,876.4 108.7,876.39 109.7,876.6 110.7,876.49 111.7,876.6 112.7,876.82 113.7,876.7 114.7,876.65 115.7,876.4 116.7,876.62 117.7,876.6 118.7,875.93 119.7,875.5 120.7,875.7 121.7,876 122.7,876.35 123.7,876.5 124.7,876.11 125.7,876.1 126.7,876.29 127.7,876.4 128.7,876.2 129.7,875.4 130.7,875.63 131.7,875.8 132.7,875.64 133.7,875.5 134.7,875.93 135.7,875.8 136.7,875.88 137.7,875.8 138.7,875.74 139.7,875.1 140.7,875.43 141.7,875.3 142.7,875.47 143.7,875.4 144.7,875.72 145.7,876.1 146.7,876.27 147.7,875.9 148.7,875.58 149.7,875.1 150.7,875.69 151.7,875.9 152.7,875.57 153.7,875 154.7,875.39 155.7,875.6 156.7,874.96 157.7,874.9 158.7,874.84 159.7,874.7 160.7,875.49 161.7,875.8 162.7,875.25 163.7,874.9 164.7,875.18 165.7,874.9 166.7,875.26 167.7,875.8 168.7,875.67 169.7,875.6 170.7,875.39 171.7,874.9 172.7,875.37 173.7,875.6 174.7,875.45 175.7,875.1 176.7,875.24 177.7,875.2 178.7,874.94 179.7,874.6 180.7,875.17 181.7,875.5 182.7,875.26 183.7,875.1 184.7,875.12 185.7,875.4 186.7,875.07 187.7,875.3 188.67,874.78 189.63,874.64 190.6,874.3 190.78,873.56 190.95,872.46 191.12,871.58 191.3,869.4 192.27,871.4 193.23,869.83 194.2,870.8 195.23,870.38 196.27,870.28 197.3,870 198.33,870.16 199.37,868.25 200.4,869.2 201.43,869.74 202.47,869 203.5,868.5 204.5,869.86 205.5,868.26 206.5,870 207.53,869.39 208.57,868.38 209.6,868.5 210.63,868.94 211.67,868.39 212.7,867.7 213.73,865.89 214.77,867.84 215.8,866.9 216.8,866.05 217.8,867.41 218.8,866.2 219.83,866.09 220.87,864.15 221.9,864.6 222.93,865.01 223.97,864.01 225,863.8 226.03,862.48 227.07,863.41 228.1,863.1 229.13,863.94 230.17,862.5 231.2,861.5 232.2,861.31 233.2,860.08 234.2,859.2 234.82,857.92 235.44,856.35 236.06,857.09 236.68,854.05 237.3,854.6 238.08,852.67 238.85,854.25 239.62,852.81 240.4,850.8 240.86,851.41 241.32,850.18 241.78,849.21 242.24,847.54 242.7,846.2 242.91,844.56 243.13,845.33 243.34,842.06 243.56,842.18 243.77,841.45 243.99,840.83 244.2,838.5 245,840.73 245.8,840 246.57,838.35 247.33,838.5 248.1,836.9 248.48,834.85 248.87,834.2 249.25,834.61 249.63,832.73 250.02,831.96 250.4,830.8 250.86,830.11 251.32,829.53 251.78,827.27 252.24,827.74 252.7,826.2 253.47,825.22 254.23,824.95 255,823.1 256.15,822.66 257.3,824.6 257.68,822.42 258.05,821.13 258.43,821.6 258.8,820 260,818.5 260.5,816.32 261,815.53 261.5,816 262,815.17 262.5,814 263.12,812.52 263.75,811.79 264.38,813 265,810.8 265.77,810.59 266.53,808.65 267.3,809.96 268.07,807.32 268.83,805.46 269.6,806.1 270.37,806.07 271.13,803.65 271.9,804.18 272.67,803.45 273.43,801.25 274.2,802.1 274.84,802.54 275.49,800.69 276.13,798.77 276.78,796.92 277.42,797.08 278.07,797.71 278.71,797.13 279.36,796 280,794 281.15,795.42 282.3,794.6 282.88,794.91 283.46,797.75 284.04,796.7 284.62,799.7 285.2,799.8 285.87,798.7 286.53,798.54 287.2,796.6 287.87,796.32 288.53,794.2 289.2,794.6 289.97,793.39 290.73,793.15 291.5,791.07 292.27,790.78 293.03,792.7 293.8,790.6 294.53,788.69 295.25,790.18 295.98,788.94 296.7,786.14 297.43,788.22 298.15,785.74 298.88,785.46 299.6,784.8 300.77,785.94 301.93,785.11 303.1,784.8 303.67,782.64 304.23,783.31 304.8,781.57 305.37,781.48 305.93,779.34 306.5,779.6 307.2,778.52 307.9,777.72 308.6,776.73 309.3,776.59 310,775.6 310.27,776 310.55,779.19 310.83,778.34 311.1,780.2 311.56,778.23 312.02,779.93 312.48,777.74 312.94,777.27 313.4,775.6 314.34,776.39 315.28,775.36 316.22,775.83 317.16,775.67 318.1,773.8 318.67,773.16 319.23,771.24 319.8,771.24 320.37,771.4 320.93,767.93 321.5,768.1 322.07,768.66 322.63,771.61 323.2,771.5 323.8,774.1 324.4,772.56 325,775 326.35,776.02 327.7,774.6 328.73,774.22 329.77,774.01 330.8,775.4 331.8,775.28 332.8,775.33 333.8,774.6 334.6,772.54 335.4,772.9 336.2,771.5 336.77,771.07 337.35,775.04 337.93,775.5 338.5,775.4 339,776.07 339.5,773.6 340.4,774.52 341.3,773.03 342.2,774.92 343.1,775.6 344.1,775.64 345.1,774.2 346.1,774.1 347.1,773.6 348.12,772.58 349.15,771.59 350.18,770.56 351.2,771.6 352,770.03 352.8,771.08 353.6,768.32 354.4,770.11 355.2,768.5 356.2,768.71 357.2,768.95 358.2,768.65 359.2,769.5 360.23,769.05 361.25,769.28 362.27,770.19 363.3,768.5 364.3,769.47 365.3,766.11 366.3,765.9 367.3,766.5 368.32,765.13 369.35,764.72 370.38,764.07 371.4,764.5 372.4,764.42 373.4,766.08 374.4,764.03 375.4,765.5 376.4,766.5 377.4,763.04 378.4,763.1 379.4,763.5 380.42,763.14 381.45,764.66 382.48,764.11 383.5,763.5 384.7,764.67 385.9,764.2 387.1,764.7 387.8,763.24 388.5,763.3 389.2,762.1 389.9,762.56 390.6,763.25 391.3,764.7 391.7,763.92 392.1,761.82 392.5,761.91 392.9,760.5 393.17,760.4 393.43,762.7 393.7,764.19 393.97,763.45 394.23,766.54 394.5,766.9 394.56,766.67 394.61,764.11 394.67,764.78 394.72,764.2 394.77,761.1 394.83,760.02 394.88,759.46 394.94,759.02 395,757.97 395.05,756.22 395.11,755.15 395.16,753.49 395.22,754.36 395.27,752.52 395.33,753.02 395.38,749.73 395.44,748.23 395.49,749.47 395.55,746.58 395.6,746.7 395.63,744.68 395.66,744.38 395.69,742.64 395.72,741.36 395.75,742.01 395.78,739.6 395.81,739.77 395.84,738.24 395.86,735.88 395.89,735.97 395.92,736.42 395.95,733.91 395.98,733.03 396.01,733.26 396.04,730.51 396.07,731.44 396.1,728.8 397.7,729.8 397.86,730.95 398.01,733.32 398.17,733.65 398.33,734.6 398.49,733.68 398.64,735.36 398.8,737.2 399.05,734.95 399.3,734.4 399.55,733.85 399.8,733.49 400.05,732.39 400.3,730.9 400.46,728.8 400.61,729.14 400.77,729.09 400.93,727.64 401.09,724.05 401.24,726.06 401.4,723.5 401.45,723.26 401.5,726.5 401.55,728.13 401.6,727.1 401.65,728.86 401.7,731.13 401.75,729.71 401.8,732.14 401.85,731.53 401.9,734 402.7,734.22 403.5,736.2 404.55,734.4 405.6,735.6 406.7,736.88 407.8,736.2 408,738.31 408.2,737.9 408.4,739.39 408.6,741.52 408.8,741.5 409.32,741.76 409.85,739.51 410.38,738.53 410.9,737.8 411.6,737.75 412.3,739.41 413,740.4 413.8,742.02 414.6,742.5 414.76,742.83 414.91,741.07 415.07,739.65 415.23,739.4 415.39,736.65 415.54,736.12 415.7,734.6 416.75,733.68 417.8,735.1 417.93,737.07 418.07,737.57 418.2,739.3 418.33,740.18 418.47,740.68 418.6,741.22 418.73,743.93 418.87,744.23 419,743.59 419.13,744.32 419.27,746.11 419.4,747.8 419.5,747.88 419.6,744.58 419.7,743.69 419.8,743.32 419.9,741.48 420,742.5 420.1,739.34 420.2,740.51 420.3,736.89 420.4,737.2 422,737.2 422.4,739.51 422.8,738.47 423.2,741.94 423.6,741.5 424,742.21 424.4,742.41 424.8,745.9 425.2,745.7 425.47,743.75 425.73,743.89 426,742.45 426.27,742.99 426.53,740.98 426.8,739.3 427.2,739.36 427.6,740.81 428,742 428.4,743 428.8,742.7 429.2,740.37 429.6,741.67 430,739.3 431.05,740.48 432.1,740.9" fill="none" stroke="#5c5c5c" stroke-width="2.5" stroke-linejoin="round"/>
<polyline points="107.5,875.8 109.5,876.2 111.5,876.2 113.5,876.3 115.5,875.7 117.5,875.7 119.5,875.6 121.5,875.7 123.5,876.2 125.5,875.6 127.5,876 129.5,875.7 131.5,875.8 133.5,875.9 135.5,876.3 137.5,876.1 139.5,875.5 141.5,875.7 143.5,875.6 145.5,876.3 147.5,876.3 149.5,876.3 151.5,876.3 153.5,876.2 155.5,876.4 157.5,876.2 159.5,875.7 161.5,876.3 163.5,875.9 165.5,876.2 167.5,876 169.5,875.9 171.5,875.8 173.5,875.9 175.5,875.8 177.5,875.6 179.5,876.3 181.5,876.2 183.5,876.4 185.5,876.1 187.5,876 189.5,876.2 191.5,875.6 193.5,876.1 195.5,875.9 197.5,875.6 199.5,875.6 201.5,875.9 203.5,875.7 205.5,875.9 207.5,876 209.5,875.8 211.5,875.5 213.5,875.9 215.5,875.6 217.5,875.6 219.5,875.6 221.5,875.8 223.5,875.5 225.5,876 227.5,876.3 229.5,875.8 231.5,876.1 233.5,876.3 235.5,875.4 237.5,875.5 239.5,876.2 241.5,876.2 243.5,876 245.5,875.5 247.5,875.8 249.5,876.2 251.5,876.3 253.5,876.2 255.5,875.6 257.5,876.2 259.5,875.7 261.5,876.1 263.5,875.5 265.5,876.3 267.5,876 269.5,876.1 271.5,875.6 273.5,876 275.5,875.9 277.5,875.9 279.5,875.7 281.5,876.1 283.5,875.7 285.5,875.6 287.5,875.5 289.5,876 291.5,875.4 293.5,875.6 295.5,875.4 297.5,876 299.5,875.9 301.5,875.9 303.5,875.4 305.5,875.8 307.5,875.7 309.5,875.4 311.5,875.3 313.5,876.3 315.5,875.4 317.5,875.6 319.5,875.6 321.5,875.9 323.5,875.4 325.5,875.8 327.5,875.7 329.5,876.1 331.5,875.3 333.5,875.6 335.5,875.8 337.5,876.3 339.5,875.8 341.5,875.8 343.5,876 345.5,875.6 347.5,875.3 349.5,875.8 351.5,876.2 353.5,876 355.5,875.5 357.5,876 359.5,876.1 361.5,875.5 363.5,875.9 365.5,875.6 367.5,875.5 369.5,875.5 371.5,875.5 373.5,875.6 375.5,875.3 377.5,875.6 379.5,875.3 381.5,876 383.5,875.8 385.5,875.2 387.5,876 389.5,875.4 391.5,875.7 393.5,875.8 395.5,875.6 397.5,875.5 399.5,875.7 401.5,875.4 403.5,876.1 405.5,875.3 407.5,876 409.5,875.4 411.5,875.5 413.5,875.6 415.5,875.2 417.5,875.3 419.5,875.6 421.5,875.7 423.5,876.1 425.5,876.2 427.5,875.2 429.5,875.7 431.5,875.3" fill="none" stroke="#000" stroke-width="2.4" stroke-linejoin="round"/>
</svg>
</body></html>
